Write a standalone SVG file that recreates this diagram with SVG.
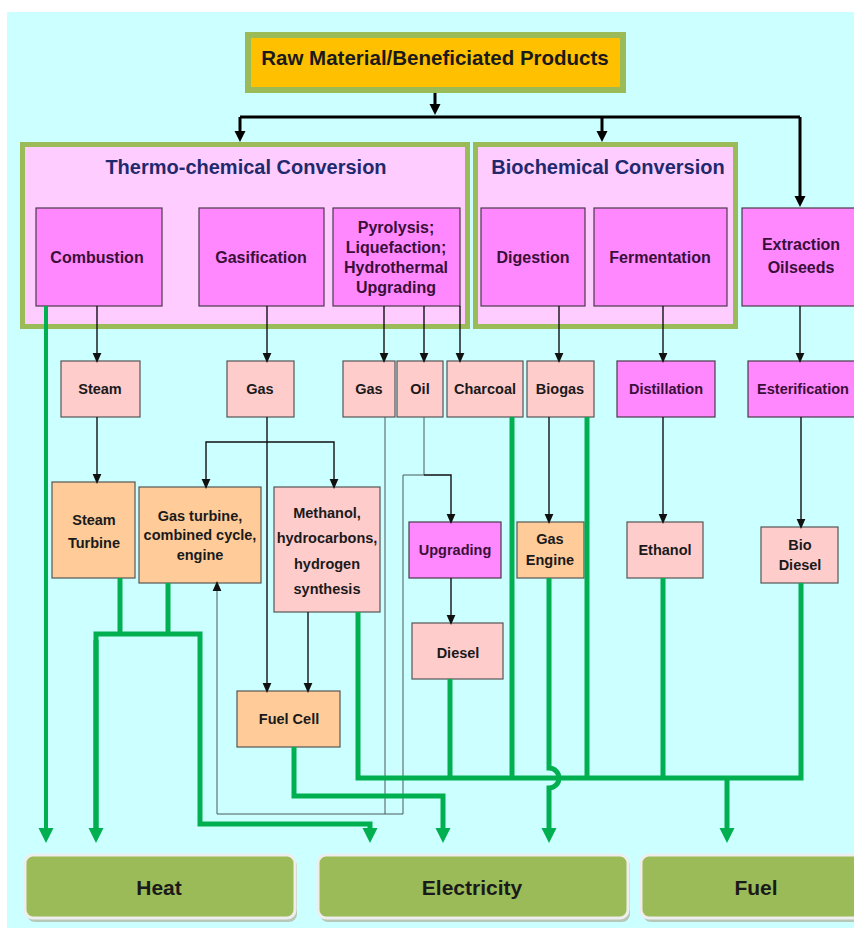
<svg xmlns="http://www.w3.org/2000/svg" width="854" height="928" viewBox="0 0 854 928">
<style>
text{font-family:"Liberation Sans",Arial,sans-serif;font-weight:bold;text-anchor:middle}
.panel{fill:#ffccff;stroke:#9bbb59;stroke-width:5}
.proc{fill:#ff88ff;stroke:#4a3a4a;stroke-width:1.2}
.prod{fill:#ffcccc;stroke:#555;stroke-width:1.2}
.dev{fill:#ffcc99;stroke:#555;stroke-width:1.2}
.out{fill:#9bbb59;stroke:#eeeeee;stroke-width:3}
.shadow{fill:#b8c8b8}
.title{font-size:20px;fill:#1f2a6e}
.pt{font-size:16px;fill:#3a0f3a}
.st{font-size:14.5px;fill:#1a1a1a}
.mt{font-size:14.5px;fill:#3a0f3a}
.ot{font-size:21px;fill:#1a1a1a}
.blk{fill:none;stroke:#111;stroke-width:1.4}
.thin{fill:none;stroke:#4a5a5a;stroke-width:1}
.top{fill:none;stroke:#000;stroke-width:3}
.grn{fill:none;stroke:#00b050;stroke-width:5}
</style>
<defs>
<marker id="ab" markerUnits="userSpaceOnUse" markerWidth="10" markerHeight="10" refX="0" refY="0" viewBox="0 -4 8 8" orient="auto" overflow="visible"><path d="M0,-3.5 L8,0 L0,3.5 z" fill="#111"/></marker>
<marker id="at" markerUnits="userSpaceOnUse" markerWidth="12" markerHeight="12" refX="0" refY="0" viewBox="0 -6 11 12" orient="auto" overflow="visible"><path d="M0,-5.5 L11,0 L0,5.5 z" fill="#000"/></marker>
<marker id="ag" markerUnits="userSpaceOnUse" markerWidth="16" markerHeight="16" refX="0" refY="0" viewBox="0 -8 15 16" orient="auto" overflow="visible"><path d="M0,-7.5 L15,0 L0,7.5 z" fill="#00b050"/></marker>
</defs>
<rect x="7" y="12" width="847" height="916" fill="#ccffff"/>

<g id="raw"><rect x="248" y="35" width="375" height="55" fill="#ffc000" stroke="#9bbb59" stroke-width="6"/><text x="435" y="65" style="font-size:20.5px;fill:#1a1a1a">Raw Material/Beneficiated Products</text></g>

<g id="thermo"><rect class="panel" x="22.5" y="144.5" width="445" height="182"/><text class="title" x="246" y="174">Thermo-chemical Conversion</text></g>
<g id="biochem"><rect class="panel" x="475.5" y="144.5" width="260" height="182"/><text class="title" x="608" y="174">Biochemical Conversion</text></g>

<g id="combustion"><rect class="proc" x="36" y="208" width="126" height="98"/><text class="pt" x="97" y="263">Combustion</text></g>
<g id="gasification"><rect class="proc" x="199" y="208" width="125" height="98"/><text class="pt" x="261" y="263">Gasification</text></g>
<g id="pyrolysis"><rect class="proc" x="333" y="208" width="127" height="98"/><text class="pt" x="396" y="233">Pyrolysis;</text><text class="pt" x="396" y="253">Liquefaction;</text><text class="pt" x="396" y="273">Hydrothermal</text><text class="pt" x="396" y="293">Upgrading</text></g>
<g id="digestion"><rect class="proc" x="481" y="208" width="104" height="98"/><text class="pt" x="533" y="263">Digestion</text></g>
<g id="fermentation"><rect class="proc" x="594" y="208" width="133" height="98"/><text class="pt" x="660" y="263">Fermentation</text></g>
<g id="extraction"><rect class="proc" x="742" y="208" width="130" height="98"/><text class="pt" x="801" y="250">Extraction</text><text class="pt" x="801" y="273">Oilseeds</text></g>

<g id="steam"><rect class="prod" x="61" y="361" width="79" height="56"/><text class="st" x="100" y="394">Steam</text></g>
<g id="gas1"><rect class="prod" x="227" y="361" width="67" height="56"/><text class="st" x="260" y="394">Gas</text></g>
<g id="gas2"><rect class="prod" x="343" y="361" width="52" height="56"/><text class="st" x="369" y="394">Gas</text></g>
<g id="oil"><rect class="prod" x="397" y="361" width="46" height="56"/><text class="st" x="420" y="394">Oil</text></g>
<g id="charcoal"><rect class="prod" x="447" y="361" width="76" height="56"/><text class="st" x="485" y="394">Charcoal</text></g>
<g id="biogas"><rect class="prod" x="527" y="361" width="67" height="56"/><text class="st" x="560" y="394">Biogas</text></g>
<g id="distillation"><rect class="proc" x="617" y="361" width="98" height="56"/><text class="mt" x="666" y="394">Distillation</text></g>
<g id="esterification"><rect class="proc" x="748" y="361" width="124" height="56"/><text class="mt" x="803" y="394">Esterification</text></g>

<g id="steamturbine"><rect class="dev" x="52" y="482" width="83" height="96"/><text class="st" x="94" y="525">Steam</text><text class="st" x="94" y="548">Turbine</text></g>
<g id="gasturbine"><rect class="dev" x="139" y="487" width="122" height="96"/><text class="st" x="200" y="521">Gas turbine,</text><text class="st" x="200" y="540">combined cycle,</text><text class="st" x="200" y="560">engine</text></g>
<g id="methanol"><rect class="prod" x="274" y="487" width="106" height="125"/><text class="st" x="327" y="518">Methanol,</text><text class="st" x="327" y="543">hydrocarbons,</text><text class="st" x="327" y="569">hydrogen</text><text class="st" x="327" y="594">synthesis</text></g>
<g id="upgrading"><rect class="proc" x="409" y="522" width="92" height="56"/><text class="mt" x="455" y="555">Upgrading</text></g>
<g id="gasengine"><rect class="dev" x="517" y="522" width="67" height="56"/><text class="st" x="550" y="544">Gas</text><text class="st" x="550" y="565">Engine</text></g>
<g id="ethanol"><rect class="prod" x="627" y="522" width="76" height="56"/><text class="st" x="665" y="555">Ethanol</text></g>
<g id="biodiesel"><rect class="prod" x="761" y="527" width="77" height="56"/><text class="st" x="800" y="550">Bio</text><text class="st" x="800" y="570">Diesel</text></g>
<g id="diesel"><rect class="prod" x="412" y="623" width="91" height="56"/><text class="st" x="458" y="658">Diesel</text></g>
<g id="fuelcell"><rect class="dev" x="237" y="691" width="103" height="56"/><text class="st" x="289" y="724">Fuel Cell</text></g>

<g id="heat"><rect class="shadow" x="27" y="858" width="270" height="64" rx="8"/><rect class="out" x="25" y="855" width="270" height="63" rx="8"/><text class="ot" x="159" y="895">Heat</text></g>
<g id="electricity"><rect class="shadow" x="320" y="858" width="310" height="64" rx="8"/><rect class="out" x="318" y="855" width="310" height="63" rx="8"/><text class="ot" x="472" y="895">Electricity</text></g>
<g id="fuel"><rect class="shadow" x="643" y="858" width="240" height="64" rx="8"/><rect class="out" x="641" y="855" width="240" height="63" rx="8"/><text class="ot" x="756" y="895">Fuel</text></g>

<g id="connectors">
<path class="top" d="M435,93 V104" marker-end="url(#at)"/>
<path class="top" d="M240,117 H800"/>
<path class="top" d="M240,117 V131" marker-end="url(#at)"/>
<path class="top" d="M602,117 V131" marker-end="url(#at)"/>
<path class="top" d="M800,117 V196" marker-end="url(#at)"/>

<path class="blk" d="M97,306 V353" marker-end="url(#ab)"/>
<path class="blk" d="M267,306 V353" marker-end="url(#ab)"/>
<path class="blk" d="M384,306 V353" marker-end="url(#ab)"/>
<path class="blk" d="M424,306 V353" marker-end="url(#ab)"/>
<path class="blk" d="M460,306 V353" marker-end="url(#ab)"/>
<path class="blk" d="M559,306 V353" marker-end="url(#ab)"/>
<path class="blk" d="M663,306 V353" marker-end="url(#ab)"/>
<path class="blk" d="M800,306 V353" marker-end="url(#ab)"/>

<path class="blk" d="M97,417 V474" marker-end="url(#ab)"/>
<path class="blk" d="M267,417 V683" marker-end="url(#ab)"/>
<path class="blk" d="M267,442 H206 V479" marker-end="url(#ab)"/>
<path class="blk" d="M267,442 H334 V479" marker-end="url(#ab)"/>
<path class="blk" d="M308,612 V683" marker-end="url(#ab)"/>
<path class="blk" d="M549,417 V514" marker-end="url(#ab)"/>
<path class="blk" d="M663,417 V514" marker-end="url(#ab)"/>
<path class="blk" d="M801,417 V519" marker-end="url(#ab)"/>
<path class="thin" d="M424,417 V475 H403 V814"/>
<path class="blk" d="M424,475 H451 V514" marker-end="url(#ab)"/>
<path class="blk" d="M451,578 V615" marker-end="url(#ab)"/>
<path class="thin" d="M385,417 V814"/>
<path class="thin" d="M403,814 H217 V591" marker-end="url(#ab)"/>

<path class="grn" d="M46,306 V828" style="stroke-width:4" marker-end="url(#ag)"/>
<path class="grn" d="M120,578 V634"/>
<path class="grn" d="M168,583 V634"/>
<path class="grn" d="M96,828 V634 H200 V824 H370 V828" marker-end="url(#ag)"/>
<path class="grn" d="M96,640 V828" marker-end="url(#ag)"/>
<path class="grn" d="M294,747 V796 H443 V828" marker-end="url(#ag)"/>
<path class="grn" d="M358,612 V778 H801 V583"/>
<path class="grn" d="M450,679 V778"/>
<path class="grn" d="M512,417 V778"/>
<path class="grn" d="M587,417 V778"/>
<path class="grn" d="M663,578 V778"/>
<path class="grn" d="M727,778 V828" marker-end="url(#ag)"/>
<path class="grn" d="M549,578 V768 A10,10 0 0 1 549,788 V828" marker-end="url(#ag)"/>
</g>
</svg>
